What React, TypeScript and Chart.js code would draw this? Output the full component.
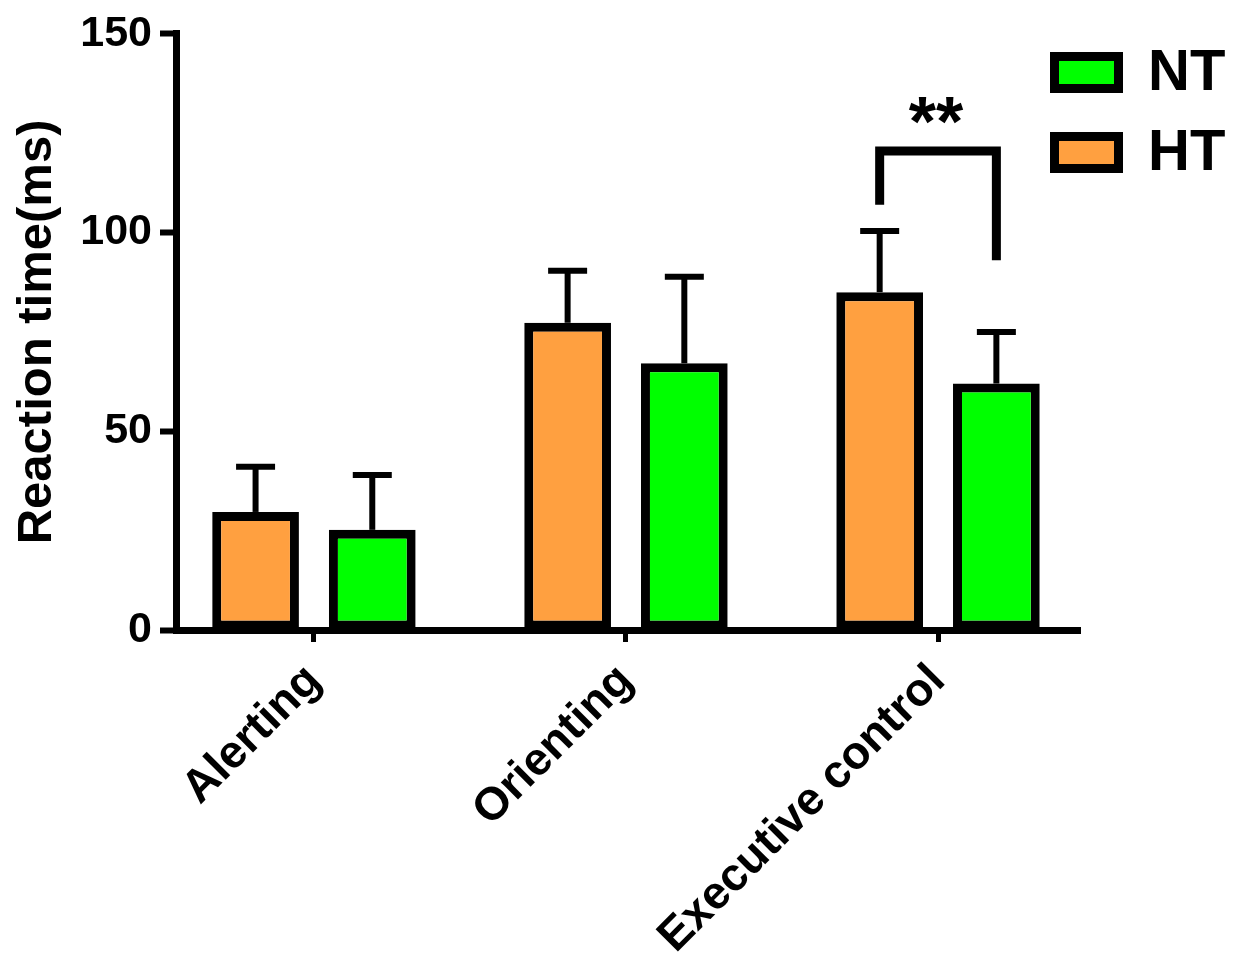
import React, { useEffect, useRef } from 'react';
import { Chart, registerables } from 'chart.js';

Chart.register(...registerables);

const categories = ['Alerting', 'Orienting', 'Executive control'];
const seriesNames = ['HT', 'NT'];
const htMeans = [29.7, 77.3, 85.0];
const htSD = [11.4, 13.1, 15.4];
const ntMeans = [25.2, 67.1, 62.0];
const ntSD = [13.8, 21.8, 13.0];
const yTicks = [0, 50, 100, 150];
const yTitle = 'Reaction time(ms)';

const sigCategory = 2;
const sigLabel = '**';
const sigTop = 120.5;
const sigLeftEnd = 107;
const sigRightEnd = 93;

const FONT = '"Liberation Sans", Arial, Helvetica, sans-serif';
const HT_COLOR = '#FFA040';
const NT_COLOR = '#00FF00';

const means = [htMeans, ntMeans];
const sds = [htSD, ntSD];

const errorBarPlugin = {
  id: 'errorBars',
  afterDatasetsDraw(chart: any) {
    const ctx = chart.ctx;
    const y = chart.scales.y;
    chart.data.datasets.forEach((_ds: any, di: number) => {
      const meta = chart.getDatasetMeta(di);
      meta.data.forEach((bar: any, i: number) => {
        const top = y.getPixelForValue(means[di][i] + sds[di][i]);
        ctx.save();
        ctx.strokeStyle = '#000';
        ctx.lineWidth = 6;
        ctx.lineCap = 'butt';
        ctx.beginPath();
        ctx.moveTo(bar.x, bar.y);
        ctx.lineTo(bar.x, top);
        ctx.stroke();
        ctx.beginPath();
        ctx.moveTo(bar.x - 19.5, top);
        ctx.lineTo(bar.x + 19.5, top);
        ctx.stroke();
        ctx.restore();
      });
    });
  },
};

const sigPlugin = {
  id: 'sigBracket',
  afterDatasetsDraw(chart: any) {
    const ctx = chart.ctx;
    const y = chart.scales.y;
    const left = chart.getDatasetMeta(0).data[sigCategory];
    const right = chart.getDatasetMeta(1).data[sigCategory];
    if (!left || !right) return;
    const yTop = y.getPixelForValue(sigTop);
    ctx.save();
    ctx.strokeStyle = '#000';
    ctx.lineWidth = 9;
    ctx.lineJoin = 'miter';
    ctx.lineCap = 'butt';
    ctx.beginPath();
    ctx.moveTo(left.x, y.getPixelForValue(sigLeftEnd));
    ctx.lineTo(left.x, yTop);
    ctx.lineTo(right.x, yTop);
    ctx.lineTo(right.x, y.getPixelForValue(sigRightEnd));
    ctx.stroke();
    ctx.fillStyle = '#000';
    ctx.font = `bold 70px ${FONT}`;
    ctx.textAlign = 'center';
    ctx.textBaseline = 'alphabetic';
    ctx.fillText(sigLabel, (left.x + right.x) / 2 - 2, yTop - 5);
    ctx.restore();
  },
};

const legendPlugin = {
  id: 'customLegend',
  afterDraw(chart: any) {
    const ctx = chart.ctx;
    const ds = chart.data.datasets;
    const order = [1, 0];
    ctx.save();
    order.forEach((di, k) => {
      const top = 52 + k * 80;
      ctx.fillStyle = ds[di].backgroundColor;
      ctx.fillRect(1050, top, 73, 41);
      ctx.strokeStyle = '#000';
      ctx.lineWidth = 9;
      ctx.strokeRect(1054.5, top + 4.5, 64, 32);
      ctx.fillStyle = '#000';
      ctx.font = `bold 58px ${FONT}`;
      ctx.textAlign = 'left';
      ctx.textBaseline = 'middle';
      ctx.fillText(ds[di].label, 1148, top + 22);
    });
    ctx.restore();
  },
};

export default function App() {
  const canvasRef = useRef<HTMLCanvasElement | null>(null);

  useEffect(() => {
    const canvas = canvasRef.current;
    if (!canvas) return;
    const chart = new Chart(canvas, {
      type: 'bar',
      data: {
        datasets: [
          {
            label: seriesNames[0],
            data: htMeans.map((v, i) => ({ x: i, y: v })),
            backgroundColor: HT_COLOR,
            borderColor: '#000',
            borderWidth: 9,
            borderSkipped: false,
            categoryPercentage: 0.748,
            barPercentage: 0.743,
          },
          {
            label: seriesNames[1],
            data: ntMeans.map((v, i) => ({ x: i, y: v })),
            backgroundColor: NT_COLOR,
            borderColor: '#000',
            borderWidth: 9,
            borderSkipped: false,
            categoryPercentage: 0.748,
            barPercentage: 0.743,
          },
        ],
      } as any,
      options: {
        animation: false,
        responsive: false,
        devicePixelRatio: 1,
        layout: { padding: { top: 32, right: 163, left: 0, bottom: 0 } },
        plugins: {
          legend: { display: false },
          tooltip: { enabled: false },
        },
        scales: {
          x: {
            type: 'linear',
            offset: false,
            min: -0.442,
            max: 2.455,
            afterBuildTicks: (s: any) => {
              s.ticks = categories.map((_, i) => ({ value: i }));
            },
            afterFit: (s: any) => {
              s.height = 338;
            },
            ticks: {
              callback: (v: any) => categories[v] ?? '',
              autoSkip: false,
              minRotation: 45,
              maxRotation: 45,
              padding: 12,
              color: '#000',
              font: { family: FONT, size: 46, weight: 'bold' },
            },
            grid: {
              display: true,
              offset: false,
              drawOnChartArea: false,
              drawTicks: true,
              tickLength: 12,
              tickWidth: 5,
              tickColor: '#000',
            },
            border: { display: true, width: 7, color: '#000' },
          },
          y: {
            min: 0,
            max: 150,
            afterBuildTicks: (s: any) => {
              s.ticks = yTicks.map((v) => ({ value: v }));
            },
            afterFit: (s: any) => {
              s.width = 176;
            },
            ticks: {
              padding: 8,
              color: '#000',
              font: { family: FONT, size: 43, weight: 'bold' },
            },
            grid: {
              display: true,
              drawOnChartArea: false,
              drawTicks: true,
              tickLength: 16,
              tickWidth: 6,
              tickColor: '#000',
            },
            border: { display: true, width: 7, color: '#000' },
            title: {
              display: true,
              text: yTitle,
              color: '#000',
              font: { family: FONT, size: 49, weight: 'bold' },
              padding: { top: 8, bottom: 0 },
            },
          },
        },
      } as any,
      plugins: [errorBarPlugin, sigPlugin, legendPlugin],
    });
    return () => chart.destroy();
  }, []);

  return (
    <div style={{ position: 'fixed', left: 0, top: 0, width: 1243, height: 968, background: '#fff' }}>
      <canvas ref={canvasRef} width={1243} height={968} style={{ width: 1243, height: 968 }} />
    </div>
  );
}
